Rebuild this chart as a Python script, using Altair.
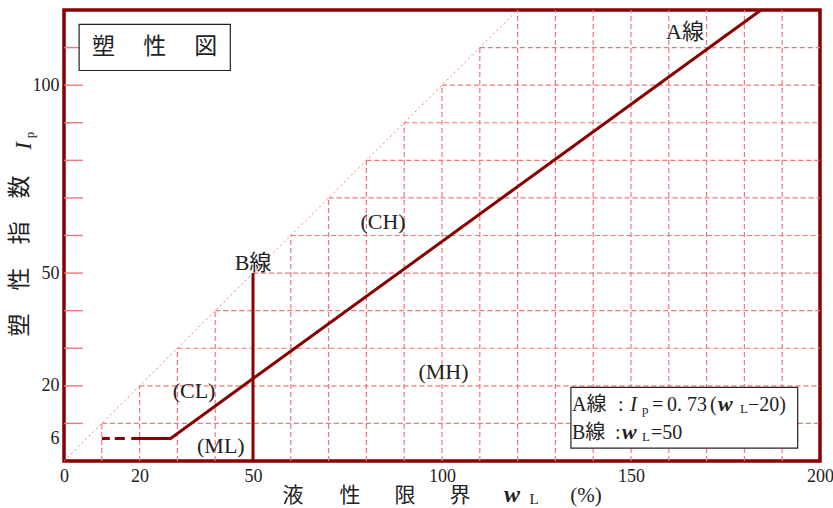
import altair as alt
import pandas as pd

# ---------------- data ----------------
x_ticks = [0, 20, 50, 100, 150, 200]
y_ticks = [6, 20, 50, 100]
v_grid = [10, 20, 30, 40, 50, 60, 70, 80, 90, 100, 110, 120, 130, 140, 150, 160, 170, 180, 190]
h_grid = [10, 20, 30, 40, 50, 60, 70, 80, 90, 100, 110]

diag_x = [0, 120]
diag_y = [0, 120]

a_dash_x = [10, 17.8]
a_dash_y = [6, 6]
a_line_x = [17.8, 28.2, 184.4]
a_line_y = [6, 6, 120]
b_line_x = [50, 50]
b_line_y = [0, 50]

zone_labels = ["(CH)", "(CL)", "(ML)", "(MH)", "A線", "B線"]
zone_x = [84.4, 34.4, 41.5, 100.4, 164.3, 50.0]
zone_y = [63.6, 18.6, 4.0, 23.7, 114.2, 52.7]

title_text = "塑　 性　 図"
title_box_x = [4.0, 44.0]
title_box_y = [116.2, 103.9]
legend_box_x = [134.1, 194.1]
legend_box_y = [19.6, 3.4]

y_title_main = "塑　性　指　数"
x_title_chars = ["液", "性", "限", "界"]

# ---------------- styles ----------------
SERIF = "Liberation Serif, Noto Sans CJK JP, serif"
CJK = "Noto Sans CJK JP, Liberation Serif, sans-serif"
DARK = "#880000"
PINK = "#f07878"
TXT = "#222222"

xs = alt.Scale(domain=[0, 200], nice=False, zero=False)
ys = alt.Scale(domain=[0, 120], nice=False, zero=False)
x_axis = alt.Axis(values=x_ticks, title=None, grid=False, ticks=False, tickSize=0, domain=False,
                  labelFont=SERIF, labelFontSize=18, labelColor=TXT, labelPadding=6,
                  labelFlush=False, labelOverlap=False)
y_axis = alt.Axis(values=y_ticks, title=None, grid=False, ticks=False, tickSize=0, domain=False,
                  labelFont=SERIF, labelFontSize=18, labelColor=TXT, labelPadding=5,
                  labelFlush=False, labelOverlap=False)


def X(f="x"):
    return alt.X(f + ":Q", scale=xs, axis=x_axis)


def Y(f="y"):
    return alt.Y(f + ":Q", scale=ys, axis=y_axis)


# grid: staircase segments below the diagonal
vg = pd.DataFrame({"x": v_grid, "x2": v_grid, "y": [0] * len(v_grid),
                   "y2": [min(v, 120) for v in v_grid]})
hg = pd.DataFrame({"x": h_grid, "x2": [200] * len(h_grid), "y": h_grid, "y2": h_grid})
tk = pd.DataFrame({"x": [0] * len(h_grid), "x2": [5] * len(h_grid), "y": h_grid, "y2": h_grid})

grid_v = alt.Chart(vg).mark_rule(color=PINK, strokeWidth=1.2, strokeDash=[5, 3]).encode(
    x=X(), x2="x2:Q", y=Y(), y2="y2:Q")
grid_h = alt.Chart(hg).mark_rule(color=PINK, strokeWidth=1.2, strokeDash=[5, 3]).encode(
    x=X(), x2="x2:Q", y=Y(), y2="y2:Q")
ticks_in = alt.Chart(tk).mark_rule(color=PINK, strokeWidth=1.4).encode(
    x=X(), x2="x2:Q", y=Y(), y2="y2:Q")

diag = alt.Chart(pd.DataFrame({"x": diag_x, "y": diag_y, "o": [0, 1]})).mark_line(
    color=PINK, strokeWidth=1, strokeDash=[2, 3]).encode(x=X(), y=Y(), order="o:Q")

a_dash = alt.Chart(pd.DataFrame({"x": a_dash_x, "y": a_dash_y, "o": [0, 1]})).mark_line(
    color=DARK, strokeWidth=3, strokeDash=[8, 5, 10, 7]).encode(x=X(), y=Y(), order="o:Q")
a_line = alt.Chart(pd.DataFrame({"x": a_line_x, "y": a_line_y, "o": [0, 1, 2]})).mark_line(
    color=DARK, strokeWidth=3).encode(x=X(), y=Y(), order="o:Q")
b_line = alt.Chart(pd.DataFrame({"x": b_line_x, "y": b_line_y, "o": [0, 1]})).mark_line(
    color=DARK, strokeWidth=3).encode(x=X(), y=Y(), order="o:Q")

boxes = alt.Chart(pd.DataFrame({
    "x": [title_box_x[0], legend_box_x[0]], "x2": [title_box_x[1], legend_box_x[1]],
    "y": [title_box_y[0], legend_box_y[0]], "y2": [title_box_y[1], legend_box_y[1]]})).mark_rect(
    fill="white", stroke="#222222", strokeWidth=1.2).encode(x=X(), x2="x2:Q", y=Y(), y2="y2:Q")

zones = alt.Chart(pd.DataFrame({"x": zone_x, "y": zone_y, "t": zone_labels})).mark_text(
    font=SERIF, fontSize=22, color=TXT, align="center", baseline="middle").encode(
    x=X(), y=Y(), text="t:N")

title_mark = alt.Chart(pd.DataFrame({"x": [sum(title_box_x) / 2], "y": [sum(title_box_y) / 2],
                                      "t": [title_text]})).mark_text(
    font=CJK, fontSize=23, color=TXT, align="center", baseline="middle").encode(
    x=X(), y=Y(), text="t:N")


def ptext(s, x, y, size, font=SERIF, style="normal", weight="normal", align="center", angle=0):
    return alt.Chart(pd.DataFrame({"t": [s]})).mark_text(
        font=font, fontSize=size, fontStyle=style, fontWeight=weight, align=align,
        baseline="middle", angle=angle, color=TXT).encode(
        x=alt.value(x), y=alt.value(y), text="t:N")


pieces = []
# legend box line 1: A線 : Ip = 0.73 ( wL - 20 )
pieces += [
    ptext("A線", 508, 395, 20, align="left"),
    ptext(":", 554, 395, 20, align="left"),
    ptext("I", 566, 395, 21, style="italic", align="left"),
    ptext("p", 578, 400, 13, align="left"),
    ptext("=", 588, 395, 20, align="left"),
    ptext("0. 73", 603, 395, 20, align="left"),
    ptext("(", 646, 395, 20, align="left"),
    ptext("w", 654, 394, 22, style="italic", weight="bold", align="left"),
    ptext("L", 676, 399, 13, align="left"),
    ptext("−20)", 684, 395, 20, align="left"),
]
# legend box line 2: B線 : wL = 50
pieces += [
    ptext("B線", 508, 423, 20, align="left"),
    ptext(":", 551, 423, 20, align="left"),
    ptext("w", 558, 422, 22, style="italic", weight="bold", align="left"),
    ptext("L", 578, 427, 13, align="left"),
    ptext("=50", 587, 423, 20, align="left"),
]
# y axis title
pieces += [
    ptext(y_title_main, -44, 246, 23, font=CJK, angle=270),
    ptext("I", -40, 136, 23, style="italic", angle=270),
    ptext("p", -34, 125, 13, angle=270),
]
# x axis title
for ch, px in zip(x_title_chars, [229, 286, 341, 396]):
    pieces.append(ptext(ch, px, 486, 21, font=CJK))
pieces += [
    ptext("w", 448, 485, 24, style="italic", weight="bold"),
    ptext("L", 470, 489, 15),
    ptext("(%)", 522, 486, 21),
]

chart = alt.layer(
    grid_v, grid_h, ticks_in, diag, a_dash, a_line, b_line, boxes, zones, title_mark, *pieces
).properties(
    width=756, height=451, autosize="none",
    padding={"left": 64, "top": 10, "right": 13, "bottom": 47},
    background="white",
).configure_view(stroke=DARK, strokeWidth=3.5)

chart.save("out.html", embed_options={"renderer": "svg", "actions": False})
